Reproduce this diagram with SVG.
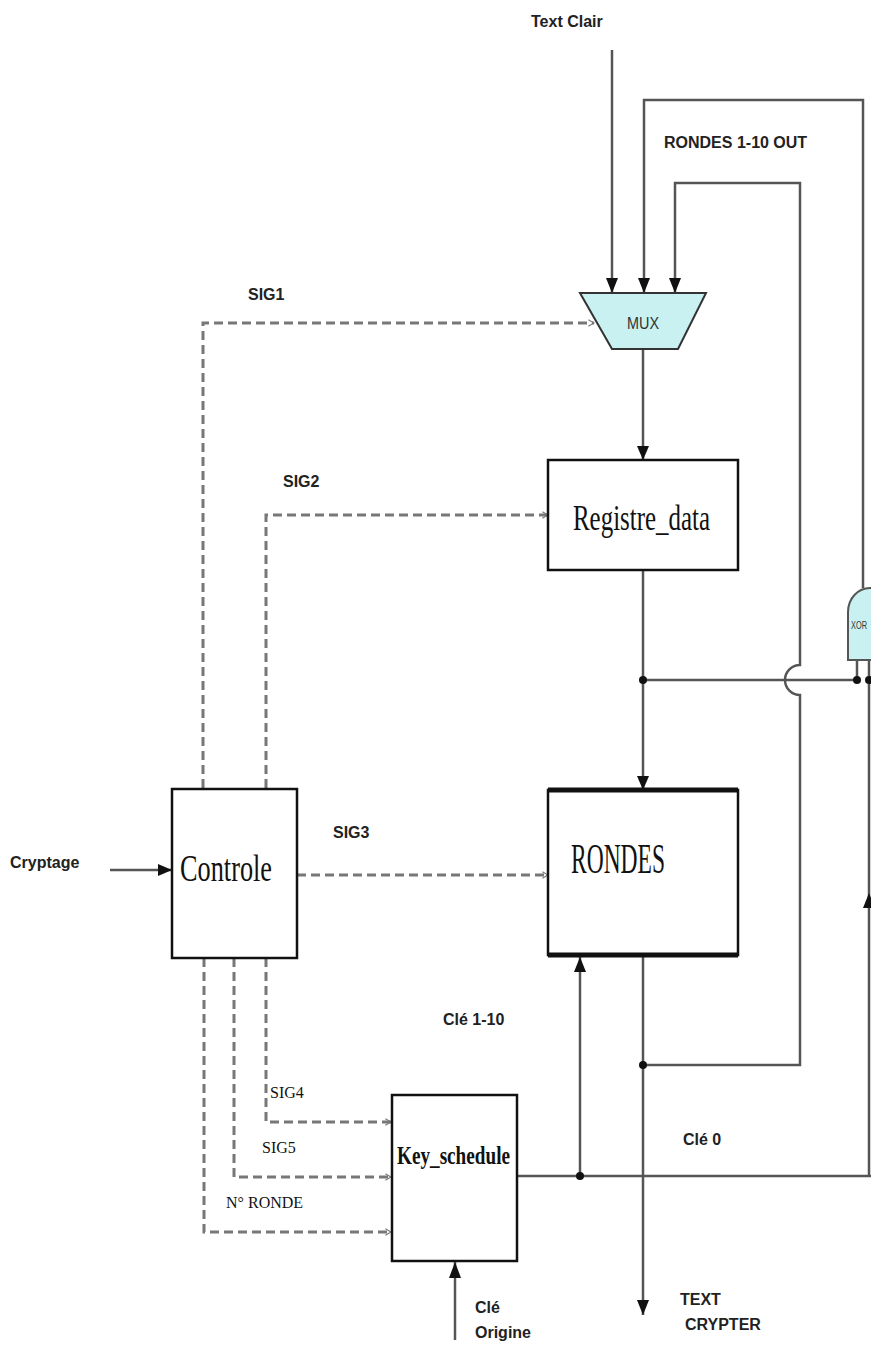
<svg xmlns="http://www.w3.org/2000/svg" width="871" height="1347" viewBox="0 0 871 1347">
<style>
.w{fill:none;stroke:#555;stroke-width:2.5}
.d{fill:none;stroke:#777;stroke-width:3;stroke-dasharray:9,5}
.box{fill:#fff;stroke:#111;stroke-width:2.5}
.lb{font-family:"Liberation Sans",Arial,sans-serif;font-weight:bold;font-size:16px;fill:#222}
.sf{font-family:"Liberation Serif","Times New Roman",serif;fill:#111}
.dot{fill:#111}
</style>
<defs>
<marker id="ao" viewBox="0 0 10 10" refX="9" refY="5" markerWidth="8" markerHeight="8" orient="auto" markerUnits="userSpaceOnUse">
<path d="M2,1 L9,5 L2,9" fill="none" stroke="#777" stroke-width="1.5"/>
</marker>
</defs>
<rect width="871" height="1347" fill="#fff"/>

<g id="connectors">
<line class="w" x1="612" y1="50" x2="612" y2="293"/>
<path d="M606,278 L618,278 L612,293 Z" fill="#111"/>
<path class="w" d="M863,588 V100 H644 V293"/>
<path d="M638,278 L650,278 L644,293 Z" fill="#111"/>
<path class="w" d="M643,1065 H800 V695 A15,15 0 0 1 800,665 V183 H675 V293"/>
<path d="M669,278 L681,278 L675,293 Z" fill="#111"/>
<line class="w" x1="643" y1="350" x2="643" y2="460"/>
<path d="M637,446 L649,446 L643,460 Z" fill="#111"/>
<line class="w" x1="643" y1="570" x2="643" y2="790"/>
<path d="M637,776 L649,776 L643,790 Z" fill="#111"/>
<line class="w" x1="643" y1="680" x2="857" y2="680"/>
<line class="w" x1="857" y1="660" x2="857" y2="680"/>
<line class="w" x1="869" y1="660" x2="869" y2="1176"/>
<path d="M863,908 L875,908 L869,893 Z" fill="#111"/>
<line class="w" x1="643" y1="955" x2="643" y2="1315"/>
<path d="M637,1300 L649,1300 L643,1315 Z" fill="#111"/>
<line class="w" x1="517" y1="1176" x2="871" y2="1176"/>
<line class="w" x1="580" y1="1176" x2="580" y2="957"/>
<path d="M574,972 L586,972 L580,957 Z" fill="#111"/>
<line class="w" x1="455" y1="1340" x2="455" y2="1262"/>
<path d="M449,1278 L461,1278 L455,1262 Z" fill="#111"/>
<line class="w" x1="110" y1="870" x2="172" y2="870"/>
<path d="M158,864 L172,870 L158,876 Z" fill="#111"/>
<path class="d" d="M203,788 V323 H594" marker-end="url(#ao)"/>
<path class="d" d="M266,788 V515 H548" marker-end="url(#ao)"/>
<path class="d" d="M297,875 H548" marker-end="url(#ao)"/>
<path class="d" d="M266,958 V1122 H391" marker-end="url(#ao)"/>
<path class="d" d="M234,958 V1177 H391" marker-end="url(#ao)"/>
<path class="d" d="M204,958 V1232 H391" marker-end="url(#ao)"/>
<circle class="dot" cx="643" cy="680" r="4"/>
<circle class="dot" cx="857" cy="680" r="4"/>
<circle class="dot" cx="869" cy="680" r="4"/>
<circle class="dot" cx="643" cy="1065" r="4"/>
<circle class="dot" cx="580" cy="1176" r="4"/>
</g>

<g id="mux">
<path d="M580,293 L706,293 L678,349 L612,349 Z" fill="#c9f1f1" stroke="#333" stroke-width="2"/>
<text x="643" y="329" text-anchor="middle" font-family="Liberation Sans,sans-serif" font-size="16" fill="#333" textLength="32" lengthAdjust="spacingAndGlyphs">MUX</text>
</g>

<g id="xor">
<path d="M848,660 V612 A22,24 0 0 1 892,612 V660 Z" fill="#c9f1f1" stroke="#555" stroke-width="2"/>
<text x="851" y="629" font-family="Liberation Sans,sans-serif" font-size="10" fill="#333" textLength="16" lengthAdjust="spacingAndGlyphs">XOR</text>
</g>

<g id="registre">
<rect class="box" x="548" y="460" width="190" height="110" stroke-width="2"/>
<text class="sf" x="573" y="530" font-size="36" textLength="137" lengthAdjust="spacingAndGlyphs">Registre_data</text>
</g>

<g id="rondes">
<rect class="box" x="548" y="790" width="190" height="165" stroke-width="3"/>
<line x1="548" y1="790" x2="738" y2="790" stroke="#111" stroke-width="5"/>
<line x1="548" y1="955" x2="738" y2="955" stroke="#111" stroke-width="5"/>
<text class="sf" x="571" y="873" font-size="42" textLength="94" lengthAdjust="spacingAndGlyphs">RONDES</text>
</g>

<g id="controle">
<rect class="box" x="172" y="789" width="125" height="169" stroke-width="3"/>
<text class="sf" x="180" y="881" font-size="38" textLength="92" lengthAdjust="spacingAndGlyphs">Controle</text>
</g>

<g id="keyschedule">
<rect class="box" x="392" y="1095" width="125" height="166" stroke-width="3.5"/>
<text class="sf" x="397" y="1164" font-size="25" font-weight="bold" textLength="113" lengthAdjust="spacingAndGlyphs">Key_schedule</text>
</g>

<g id="labels">
<text class="lb" x="531" y="27">Text Clair</text>
<text class="lb" x="664" y="148">RONDES 1-10 OUT</text>
<text class="lb" x="248" y="300">SIG1</text>
<text class="lb" x="283" y="487">SIG2</text>
<text class="lb" x="333" y="838">SIG3</text>
<text class="lb" x="10" y="868">Cryptage</text>
<text class="lb" x="443" y="1025">Clé 1-10</text>
<text class="lb" x="683" y="1145">Clé 0</text>
<text class="lb" x="475" y="1313">Clé</text>
<text class="lb" x="475" y="1338">Origine</text>
<text class="lb" x="680" y="1305">TEXT</text>
<text class="lb" x="685" y="1330">CRYPTER</text>
<text class="sf" x="270" y="1098" font-size="16">SIG4</text>
<text class="sf" x="262" y="1153" font-size="16">SIG5</text>
<text class="sf" x="226" y="1208" font-size="16">N° RONDE</text>
</g>
</svg>
